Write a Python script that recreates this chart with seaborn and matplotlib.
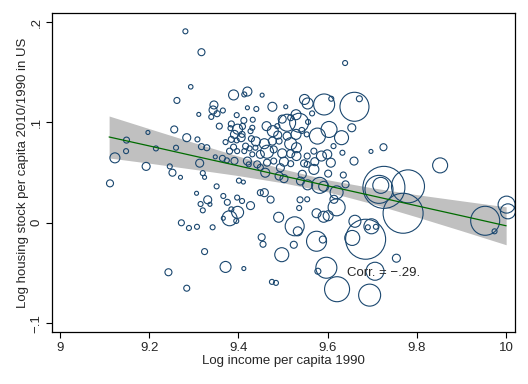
import numpy as np
import pandas as pd
import matplotlib
matplotlib.use('Agg')
import matplotlib.pyplot as plt
import seaborn as sns

# log income per capita 1990, log housing stock growth 2010/1990, population weight
income = [9.281, 9.317, 9.293, 9.262, 9.389, 9.420, 9.345, 9.343, 9.352, 9.339,
          9.365, 9.311, 9.396, 9.357, 9.256, 9.197, 9.284, 9.308, 9.384, 9.382,
          9.398, 9.391, 9.384, 9.371, 9.396, 9.406, 9.389, 9.397, 9.149, 9.215,
          9.148, 9.260, 9.317, 9.329, 9.123, 9.348, 9.364, 9.193, 9.246, 9.252,
          9.270, 9.313, 9.320, 9.324, 9.112, 9.351, 9.306, 9.331, 9.315, 9.320,
          9.336, 9.366, 9.375, 9.401, 9.384, 9.380, 9.366, 9.398, 9.395, 9.272,
          9.289, 9.307, 9.342, 9.324, 9.371, 9.243, 9.284, 9.412, 9.427, 9.452,
          9.455, 9.449, 9.420, 9.440, 9.413, 9.453, 9.476, 9.506, 9.548, 9.555,
          9.592, 9.608, 9.660, 9.671, 9.639, 9.565, 9.529, 9.509, 9.536, 9.556,
          9.463, 9.487, 9.542, 9.577, 9.603, 9.631, 9.654, 9.697, 9.725, 9.659,
          9.412, 9.432, 9.498, 9.517, 9.409, 9.431, 9.429, 9.439, 9.458, 9.464,
          9.449, 9.477, 9.488, 9.509, 9.529, 9.553, 9.517, 9.530, 9.498, 9.517,
          9.530, 9.502, 9.517, 9.547, 9.554, 9.416, 9.425, 9.413, 9.380, 9.420,
          9.423, 9.442, 9.460, 9.491, 9.539, 9.555, 9.411, 9.374, 9.391, 9.458,
          9.472, 9.397, 9.408, 9.538, 9.554, 9.569, 9.586, 9.599, 9.613, 9.633,
          9.571, 9.607, 9.554, 9.569, 9.601, 9.635, 9.582, 9.591, 9.620, 9.614,
          9.726, 9.715, 9.719, 9.780, 9.769, 9.685, 9.655, 9.698, 9.690, 9.708,
          9.661, 9.706, 9.694, 9.621, 9.597, 9.575, 9.589, 9.578, 9.526, 9.533,
          9.524, 9.497, 9.490, 9.475, 9.484, 9.575, 9.591, 9.601, 9.620, 9.502,
          9.852, 9.953, 10.001, 10.004, 9.974, 9.754, 9.536, 9.464, 9.479, 9.494,
          9.449, 9.543, 9.427, 9.408, 9.438, 9.431, 9.479, 9.476, 9.491, 9.640]
housing = [0.1908, 0.1700, 0.1355, 0.1219, 0.1274, 0.1308, 0.1174, 0.1124, 0.1087, 0.1055,
           0.1119, 0.1080, 0.1073, 0.0963, 0.0930, 0.0900, 0.0848, 0.0831, 0.0985, 0.0943,
           0.0933, 0.0881, 0.0831, 0.0804, 0.0821, 0.0848, 0.0754, 0.0714, 0.0824, 0.0741,
           0.0714, 0.0748, 0.0759, 0.0748, 0.0647, 0.0657, 0.0642, 0.0562, 0.0562, 0.0499,
           0.0453, 0.0594, 0.0495, 0.0453, 0.0393, 0.0363, 0.0294, 0.0229, 0.0187, 0.0124,
           0.0184, 0.0267, 0.0204, 0.0420, 0.0134, 0.0045, 0.0045, 0.0104, 0.0018, 0.0000,
           -0.0052, -0.0040, -0.0045, -0.0287, -0.0440, -0.0493, -0.0652, -0.0456, 0.0171, -0.0144,
           -0.0214, 0.0300, 0.1146, 0.1134, 0.1279, 0.1272, 0.1156, 0.1156, 0.1229, 0.1189,
           0.1179, 0.1236, 0.1156, 0.1236, 0.1592, 0.1090, 0.1077, 0.0997, 0.0997, 0.1005,
           0.0963, 0.0963, 0.0920, 0.0864, 0.0930, 0.0848, 0.0947, 0.0711, 0.0753, 0.0615,
           0.1020, 0.1027, 0.1033, 0.1047, 0.0960, 0.0947, 0.0838, 0.0811, 0.0788, 0.0708,
           0.0682, 0.0913, 0.0874, 0.0864, 0.0881, 0.0881, 0.0788, 0.0748, 0.0692, 0.0689,
           0.0665, 0.0609, 0.0589, 0.0592, 0.0665, 0.0764, 0.0741, 0.0714, 0.0714, 0.0615,
           0.0582, 0.0582, 0.0499, 0.0466, 0.0416, 0.0378, 0.0406, 0.0622, 0.0617, 0.0300,
           0.0231, 0.0251, 0.0217, 0.0229, 0.0234, 0.0714, 0.0665, 0.0682, 0.0764, 0.0698,
           0.0609, 0.0599, 0.0582, 0.0532, 0.0490, 0.0476, 0.0373, 0.0363, 0.0303, 0.0234,
           0.0353, 0.0333, 0.0373, 0.0363, 0.0095, -0.0164, -0.0151, -0.0035, -0.0045, -0.0040,
           0.0015, -0.0483, -0.0721, -0.0662, -0.0448, -0.0184, -0.0167, -0.0483, -0.0035, -0.0085,
           -0.0219, -0.0318, 0.0055, -0.0589, -0.0599, 0.0095, 0.0060, 0.0070, 0.0154, 0.0440,
           0.0572, 0.0020, 0.0181, 0.0114, -0.0085, -0.0353, 0.0147, 0.0599, 0.0615, 0.0549,
           0.0552, 0.0483, 0.0913, 0.0881, 0.0748, 0.0682, 0.0731, 0.0814, 0.0814, 0.0383]
pop = [25, 49, 20, 36, 100, 81, 64, 64, 36, 25,
       25, 16, 25, 36, 49, 16, 64, 25, 36, 25,
       100, 64, 36, 25, 25, 64, 36, 25, 36, 25,
       25, 25, 36, 36, 100, 16, 36, 64, 25, 49,
       16, 64, 25, 16, 49, 25, 16, 64, 25, 25,
       16, 25, 36, 25, 25, 225, 16, 144, 25, 36,
       25, 25, 25, 36, 121, 49, 36, 16, 64, 49,
       36, 36, 16, 25, 25, 16, 81, 16, 100, 121,
       441, 25, 841, 36, 25, 25, 100, 289, 361, 25,
       81, 25, 36, 256, 256, 196, 64, 16, 49, 64,
       36, 25, 64, 36, 36, 25, 36, 81, 100, 169,
       64, 121, 64, 64, 100, 25, 144, 100, 81, 64,
       81, 81, 36, 49, 36, 36, 25, 25, 36, 64,
       25, 49, 81, 64, 64, 100, 16, 25, 49, 64,
       49, 25, 25, 36, 25, 36, 100, 81, 25, 25,
       64, 81, 36, 100, 49, 36, 256, 100, 169, 64,
       1764, 784, 256, 1089, 1600, 1600, 225, 225, 25, 25,
       144, 324, 484, 625, 441, 400, 49, 36, 361, 81,
       49, 196, 100, 25, 25, 81, 121, 100, 289, 64,
       225, 841, 289, 225, 25, 64, 25, 49, 36, 64,
       36, 64, 25, 36, 25, 25, 49, 64, 36, 49]

# weighted linear fit with 95% CI
fit_x = [9.11, 9.2, 9.3, 9.4, 9.5, 9.6, 9.7, 9.8, 9.9, 10.0]
fit_y = [0.0855, 0.0766, 0.0666, 0.0567, 0.0467, 0.0368, 0.0269, 0.0169, 0.0070, -0.0030]
ci_lo = [0.0646, 0.0594, 0.0533, 0.0470, 0.0398, 0.0308, 0.0190, 0.0058, -0.0079, -0.0219]
ci_hi = [0.1064, 0.0938, 0.0799, 0.0664, 0.0536, 0.0428, 0.0348, 0.0280, 0.0219, 0.0159]

x_ticks = [9, 9.2, 9.4, 9.6, 9.8, 10]
x_ticklabels = ['9', '9.2', '9.4', '9.6', '9.8', '10']
y_ticks = [-0.1, 0, 0.1, 0.2]
y_ticklabels = ['\u2212.1', '0', '.1', '.2']
corr_text = 'Corr. = \u2212.29.'

df = pd.DataFrame({'income': income, 'housing': housing, 'pop': pop})

sns.set_theme(style='ticks')
plt.rcParams['font.family'] = ['Liberation Sans', 'DejaVu Sans']

navy = '#1a476f'
fig = plt.figure(figsize=(5.28, 3.84), dpi=100)
ax = fig.add_axes([0.0985, 0.135, 0.877, 0.831])

ax.fill_between(fit_x, ci_lo, ci_hi, color='#c0c0c0', linewidth=0, zorder=1)

wmax = max(pop)
sns.scatterplot(data=df, x='income', y='housing', size='pop',
                sizes=(0, 0.5184 * wmax), size_norm=(0, wmax),
                facecolors='none', edgecolors=navy, linewidths=0.8,
                legend=False, ax=ax, zorder=2)

sns.lineplot(x=fit_x, y=fit_y, color='#006b00', linewidth=0.9, ax=ax, zorder=3)

ax.text(9.644, -0.0496, corr_text, fontsize=9.5, va='center', ha='left', zorder=4)

ax.set_xlim(8.982, 10.02)
ax.set_ylim(-0.109, 0.209)
ax.set_xticks(x_ticks)
ax.set_xticklabels(x_ticklabels)
ax.set_yticks(y_ticks)
ax.set_yticklabels(y_ticklabels, rotation=90, va='center')
ax.tick_params(direction='out', length=4, width=0.8, labelsize=9.5, color='black', pad=3)
for s in ax.spines.values():
    s.set_linewidth(0.9)
    s.set_color('black')

ax.set_xlabel('Log income per capita 1990', fontsize=9.5, labelpad=0.5)
ax.set_ylabel('Log housing stock per capita 2010/1990 in US', fontsize=9.5, labelpad=1)

fig.savefig('out.png', dpi=100, facecolor='white')
